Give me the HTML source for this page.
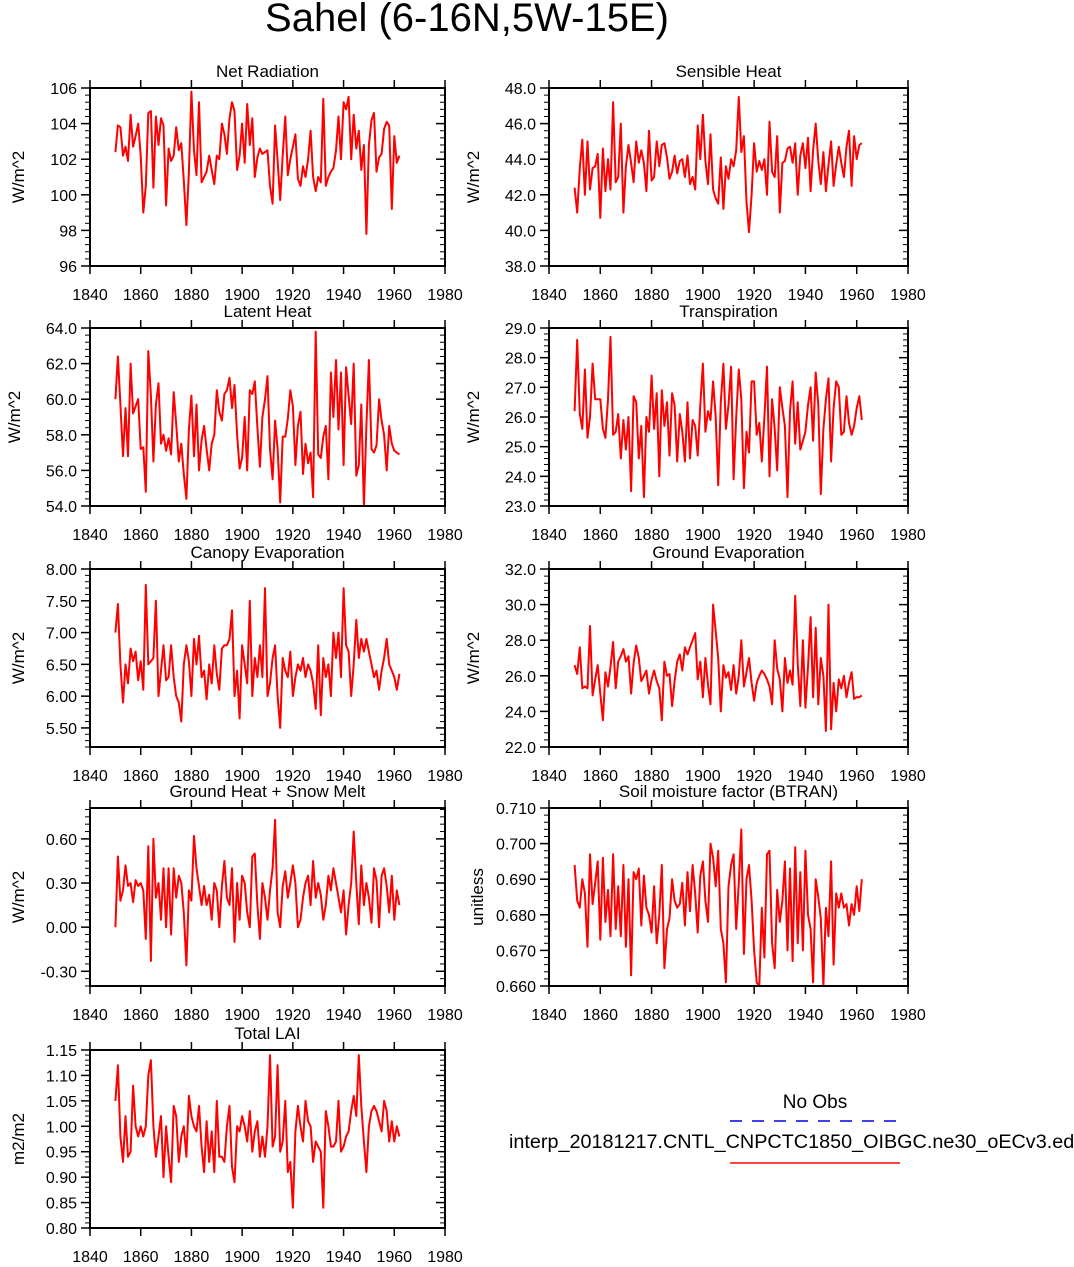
<!DOCTYPE html>
<html><head><meta charset="utf-8"><style>
body{margin:0;background:#fff}
svg text{font-family:"Liberation Sans",Arial,sans-serif;fill:#000}
</style></head><body>
<svg id="c" width="1074" height="1262" viewBox="0 0 1074 1262">
<text x="467" y="31" font-size="40" text-anchor="middle">Sahel (6-16N,5W-15E)</text>
<g>
<text x="815" y="1108" font-size="19" text-anchor="middle">No Obs</text>
<line x1="730" y1="1121" x2="900" y2="1121" stroke="#0000ee" stroke-width="1.5" stroke-dasharray="12,10"/>
<text x="509" y="1148" font-size="19.8">interp_20181217.CNTL_CNPCTC1850_OIBGC.ne30_oECv3.edison</text>
<line x1="730" y1="1163" x2="900" y2="1163" stroke="#f44" stroke-width="2"/>
</g>
</svg>
<script>
const netRad=[102.4,103.9,103.8,102.2,102.7,101.9,104.5,102.7,103.3,104.0,102.2,99.0,100.5,104.6,104.7,100.4,104.4,102.8,104.3,103.9,99.4,102.6,101.9,102.2,103.8,102.5,102.9,100.8,98.3,101.3,105.8,102.5,101.1,105.2,100.7,101.0,101.3,102.2,101.4,100.6,102.2,102.0,104.0,103.4,102.3,104.3,105.2,104.7,101.4,102.2,104.0,101.8,105.1,102.8,104.3,101.0,102.1,102.6,102.3,102.4,102.5,100.5,99.5,103.9,101.9,99.7,102.2,104.4,101.1,102.0,102.7,103.4,100.9,100.5,101.6,101.0,102.0,103.6,101.0,100.2,101.0,100.7,105.4,100.5,101.0,101.3,101.5,102.5,104.4,102.0,105.2,104.8,105.5,102.0,104.5,102.6,103.6,101.4,102.8,97.8,102.8,104.2,104.6,101.3,102.1,102.3,103.7,104.1,103.9,99.2,103.3,101.8,102.2];
const sensible=[42.4,41.0,43.5,45.1,42.0,45.0,42.3,43.5,43.6,44.3,40.7,44.6,42.2,44.0,42.3,47.2,42.7,43.0,46.0,41.0,43.6,44.8,43.8,42.7,45.0,43.8,44.5,43.8,42.2,45.6,42.8,43.0,45.0,43.6,44.8,44.9,44.1,42.9,43.3,44.2,43.2,43.9,44.0,43.0,44.2,42.6,43.0,42.3,45.9,44.0,46.5,43.9,42.6,45.4,42.3,41.8,41.5,44.1,41.2,43.6,42.9,44.0,43.6,44.5,47.5,44.4,45.3,41.6,39.9,42.0,44.9,43.3,43.9,43.4,44.0,42.0,46.1,43.3,43.0,45.3,41.0,43.8,43.9,44.6,44.7,43.8,44.9,42.0,44.2,44.9,43.5,45.2,42.2,44.5,46.0,43.9,42.6,44.4,42.2,43.7,45.0,42.5,43.7,44.7,43.8,43.0,44.7,45.6,42.5,45.3,44.0,44.8,44.9];
const latent=[60.0,62.4,59.7,56.8,59.5,56.8,62.0,59.2,59.6,60.0,57.2,57.3,54.8,62.7,60.2,56.5,59.7,60.9,57.5,58.0,57.1,57.8,56.9,60.4,58.6,56.5,57.5,55.8,54.4,58.3,60.2,56.8,59.7,56.0,57.7,58.5,57.2,56.0,57.5,58.0,60.5,59.3,58.8,60.3,60.5,61.2,59.5,60.8,58.0,56.1,56.7,59.0,56.0,60.5,60.3,61.0,58.4,56.2,59.0,60.0,61.3,57.2,55.5,58.8,57.2,54.2,57.9,57.9,58.9,60.5,59.6,56.3,58.5,59.3,55.8,57.5,56.4,57.0,54.5,63.8,56.9,56.7,57.9,58.5,55.5,61.5,59.0,62.2,58.3,61.5,56.3,61.8,60.2,58.6,62.0,55.7,56.3,59.7,54.0,58.5,62.2,57.2,57.0,57.4,60.0,58.8,58.0,56.0,58.5,57.5,57.1,57.0,56.9];
const transp=[26.2,28.6,26.1,25.6,27.6,25.3,26.0,27.8,26.6,26.6,26.6,25.6,25.3,26.6,28.7,25.4,25.5,26.1,24.6,25.9,24.9,26.0,23.5,26.7,26.5,24.6,25.7,23.3,26.0,25.5,27.4,25.6,26.8,24.0,26.9,25.7,26.5,24.7,26.8,26.4,24.5,26.1,25.5,24.5,26.5,24.6,25.9,25.7,24.7,26.4,27.8,25.5,26.2,25.9,27.2,26.0,23.7,26.5,27.8,25.6,26.4,27.7,23.9,26.0,27.6,26.6,23.6,25.5,24.8,27.2,27.2,25.4,25.8,24.5,26.0,27.7,24.0,26.6,25.6,24.2,27.0,26.3,25.7,23.3,26.2,27.2,25.1,26.5,24.9,25.2,25.5,26.4,27.0,25.2,27.5,26.4,23.4,25.6,26.6,27.3,24.5,26.3,27.2,27.0,25.4,25.5,26.7,25.8,25.4,25.7,26.3,26.7,25.9];
const canopy=[7.00,7.45,6.50,5.90,6.50,6.20,6.75,6.55,6.70,6.25,6.55,6.10,7.75,6.50,6.55,6.60,7.50,6.00,6.40,6.80,6.25,6.30,6.80,6.30,6.00,5.90,5.60,6.50,6.80,6.55,6.00,6.90,6.50,6.95,6.30,6.40,5.95,6.50,6.20,6.80,6.35,6.10,6.75,6.80,6.80,6.90,7.35,6.00,6.40,5.65,6.80,6.50,6.20,7.50,6.00,6.60,6.30,6.80,6.30,7.70,6.00,6.20,6.60,6.80,6.00,5.50,6.60,6.40,6.30,6.70,6.00,6.30,6.50,6.40,6.60,6.30,6.50,6.40,6.20,5.80,6.80,5.70,6.60,6.30,6.50,6.00,7.00,6.60,7.00,6.30,7.70,6.80,6.70,6.00,6.50,7.20,6.60,6.90,6.70,6.90,6.70,6.50,6.30,6.40,6.10,6.40,6.60,6.90,6.50,6.40,6.30,6.10,6.35];
const groundEvap=[26.6,26.1,27.6,25.3,25.4,25.3,28.8,24.9,25.8,26.6,25.0,23.5,26.2,25.4,26.5,27.9,25.3,26.8,27.1,27.5,26.8,27.1,25.0,26.7,27.7,27.0,25.7,26.0,26.3,25.0,25.8,26.3,25.7,25.3,23.5,26.8,26.0,26.1,24.3,25.7,26.8,27.2,26.3,27.6,27.2,27.6,28.0,28.4,25.8,26.8,24.8,27.0,25.5,24.4,30.0,28.5,27.0,24.0,26.6,25.9,26.2,25.2,26.6,25.0,26.0,28.0,25.4,26.2,27.0,25.6,24.6,25.6,26.0,26.3,26.1,25.8,25.4,24.4,28.0,26.4,25.8,24.0,27.0,25.6,26.3,25.5,30.5,26.7,24.3,28.0,24.2,26.5,29.3,24.8,28.7,24.4,27.0,26.0,22.9,30.0,23.0,25.6,24.0,25.8,25.3,26.0,24.8,25.6,26.2,24.7,24.8,24.8,24.9];
const groundHeat=[0.00,0.48,0.18,0.25,0.42,0.28,0.30,0.17,0.32,0.28,0.30,0.25,-0.08,0.55,-0.23,0.60,0.20,0.30,0.05,0.40,0.00,0.40,-0.05,0.40,0.20,0.35,0.30,0.10,-0.26,0.25,0.18,0.62,0.40,0.28,0.15,0.28,0.15,0.22,0.05,0.30,0.25,0.00,0.28,0.45,0.20,0.15,0.40,-0.10,0.30,0.05,0.35,0.30,0.10,0.00,0.48,0.50,0.15,-0.08,0.30,0.20,0.05,0.25,0.40,0.73,0.10,0.00,0.28,0.38,0.20,0.30,0.42,0.30,0.00,0.05,0.20,0.30,0.35,0.15,0.45,0.20,0.30,0.22,0.05,0.15,0.35,0.25,0.40,0.30,0.20,0.10,0.25,-0.05,0.15,0.30,0.65,0.30,0.02,0.42,0.15,0.30,0.20,0.03,0.40,0.32,0.00,0.35,0.40,0.28,0.10,0.35,0.05,0.25,0.15];
const btran=[0.694,0.684,0.682,0.690,0.686,0.671,0.697,0.683,0.689,0.695,0.673,0.696,0.678,0.687,0.674,0.697,0.676,0.688,0.674,0.694,0.671,0.690,0.663,0.692,0.690,0.693,0.677,0.691,0.682,0.680,0.675,0.688,0.672,0.680,0.694,0.665,0.676,0.679,0.690,0.684,0.682,0.683,0.689,0.677,0.692,0.681,0.694,0.686,0.675,0.691,0.695,0.684,0.678,0.700,0.696,0.688,0.698,0.676,0.672,0.661,0.688,0.694,0.697,0.676,0.689,0.704,0.669,0.690,0.694,0.684,0.670,0.661,0.660,0.682,0.668,0.697,0.698,0.672,0.665,0.687,0.678,0.684,0.695,0.670,0.693,0.667,0.699,0.672,0.692,0.670,0.698,0.680,0.676,0.661,0.690,0.685,0.679,0.660,0.682,0.674,0.695,0.666,0.686,0.682,0.686,0.682,0.683,0.677,0.683,0.680,0.688,0.681,0.690];
const lai=[1.05,1.12,0.98,0.93,1.02,0.94,0.95,1.08,1.00,0.98,1.00,0.98,1.00,1.10,1.13,1.00,0.94,0.98,1.02,0.90,1.00,0.94,0.89,1.04,1.02,0.93,0.98,1.00,0.94,1.06,1.02,1.00,0.99,1.04,0.96,0.91,1.01,0.93,0.99,0.91,1.05,0.94,0.94,0.93,1.00,1.04,0.92,0.89,1.00,0.99,1.02,1.00,0.97,1.03,0.95,0.99,1.01,0.94,0.98,0.94,1.00,1.14,0.96,0.98,1.12,0.95,0.97,1.05,0.91,0.93,0.84,0.99,1.04,1.00,0.97,1.05,1.01,1.00,0.93,0.97,0.96,0.95,0.84,1.03,1.00,0.96,0.96,0.97,1.05,0.95,0.96,0.98,0.99,1.03,1.06,1.02,1.14,1.04,0.97,0.91,1.00,1.03,1.04,1.03,1.01,0.99,1.05,1.03,0.97,1.01,0.97,1.00,0.98];
const startYear=1850;
const xTicks=[1840,1860,1880,1900,1920,1940,1960,1980];

const NS="http://www.w3.org/2000/svg";
const svg=document.getElementById('c');
function mk(tag,attrs,parent){const e=document.createElementNS(NS,tag);for(const k in attrs)e.setAttribute(k,attrs[k]);(parent||svg).appendChild(e);return e;}

const panels=[
 {name:'net-radiation',title:'Net Radiation',data:netRad,x:90,y:88,min:96,max:106,ticks:[96,98,100,102,104,106],dec:0,ylab:'W/m^2',minor:4},
 {name:'sensible-heat',title:'Sensible Heat',data:sensible,x:549,y:88,min:38,max:48,ticks:[38,40,42,44,46,48],dec:1,ylab:'W/m^2',minor:4},
 {name:'latent-heat',title:'Latent Heat',data:latent,x:90,y:328,min:54,max:64,ticks:[54,56,58,60,62,64],dec:1,ylab:'W/m^2',minor:4},
 {name:'transpiration',title:'Transpiration',data:transp,x:549,y:328,min:23,max:29,ticks:[23,24,25,26,27,28,29],dec:1,ylab:'W/m^2',minor:4},
 {name:'canopy-evaporation',title:'Canopy Evaporation',data:canopy,x:90,y:569,min:5.2,max:8.0,ticks:[5.5,6,6.5,7,7.5,8],dec:2,ylab:'W/m^2',minor:4},
 {name:'ground-evaporation',title:'Ground Evaporation',data:groundEvap,x:549,y:569,min:22,max:32,ticks:[22,24,26,28,30,32],dec:1,ylab:'W/m^2',minor:4},
 {name:'ground-heat-snow-melt',title:'Ground Heat + Snow Melt',data:groundHeat,x:90,y:808,min:-0.40,max:0.81,ticks:[-0.3,0,0.3,0.6],dec:2,ylab:'W/m^2',minor:5},
 {name:'soil-moisture-btran',title:'Soil moisture factor (BTRAN)',data:btran,x:549,y:808,min:0.66,max:0.71,ticks:[0.66,0.67,0.68,0.69,0.70,0.71],dec:3,ylab:'unitless',minor:4},
 {name:'total-lai',title:'Total LAI',data:lai,x:90,y:1050,min:0.80,max:1.15,ticks:[0.80,0.85,0.90,0.95,1.00,1.05,1.10,1.15],dec:2,ylab:'m2/m2',minor:4}
];
const W=355,H=178,X0=1840,X1=1980;
panels.forEach(p=>{
 const g=mk('g',{});
 
 
 const W2=(p.x>500)?359:W;
 const sx=v=>p.x+(v-X0)/(X1-X0)*W2;
 const sy=v=>p.y+H-(v-p.min)/(p.max-p.min)*H;
 xTicks.forEach(t=>{
  const X=sx(t);
  mk('line',{x1:X,y1:p.y+H,x2:X,y2:p.y+H+8,stroke:'#000','stroke-width':1.5},g);
  mk('line',{x1:X,y1:p.y,x2:X,y2:p.y-8,stroke:'#000','stroke-width':1.5},g);
  const tl=mk('text',{x:X,y:p.y+H+34,'font-size':16,'text-anchor':'middle'},g);
  tl.textContent=t;
  
  
 });
 const step=p.ticks[1]-p.ticks[0];
 const ms=step/(p.minor+1);
 for(let v=p.ticks[0]-step;v<=p.max+1e-9;v+=ms){
  if(v<p.min-1e-9)continue;
  const Y=sy(v);
  mk('line',{x1:p.x,y1:Y,x2:p.x-5,y2:Y,stroke:'#000','stroke-width':1},g);
  mk('line',{x1:p.x+W2,y1:Y,x2:p.x+W2-5,y2:Y,stroke:'#000','stroke-width':1},g);
 }
 p.ticks.forEach(t=>{
  const Y=sy(t);
  mk('line',{x1:p.x,y1:Y,x2:p.x-9,y2:Y,stroke:'#000','stroke-width':1.5},g);
  mk('line',{x1:p.x+W2,y1:Y,x2:p.x+W2-9,y2:Y,stroke:'#000','stroke-width':1.5},g);
  const tl=mk('text',{x:p.x-13,y:Y+6,'font-size':16,'text-anchor':'end'},g);
  tl.textContent=t.toFixed(p.dec);
  
  
 });
 const pts=p.data.map((v,i)=>sx(startYear+i).toFixed(1)+','+sy(v).toFixed(1)).join(' ');
 const line=mk('polyline',{points:pts,fill:'none',stroke:'#ff0000','stroke-width':2,'stroke-linejoin':'round'},g);
 
 
 const fr=mk('rect',{x:p.x,y:p.y,width:W2,height:H,fill:'none',stroke:'#000','stroke-width':2},g);
 
 
 const tt=mk('text',{x:p.x+W2/2,y:p.y-11,'font-size':17,'text-anchor':'middle'},g);
 tt.textContent=p.title;
 
 
 const lx=p.x-(p.dec>=2||p.max>99?66:70);
 const yl=mk('text',{x:0,y:0,'font-size':17,'text-anchor':'middle',transform:'translate('+lx+','+(p.y+H/2)+') rotate(-90)'},g);
 yl.textContent=p.ylab;
 
 
});
</script>
</body></html>
